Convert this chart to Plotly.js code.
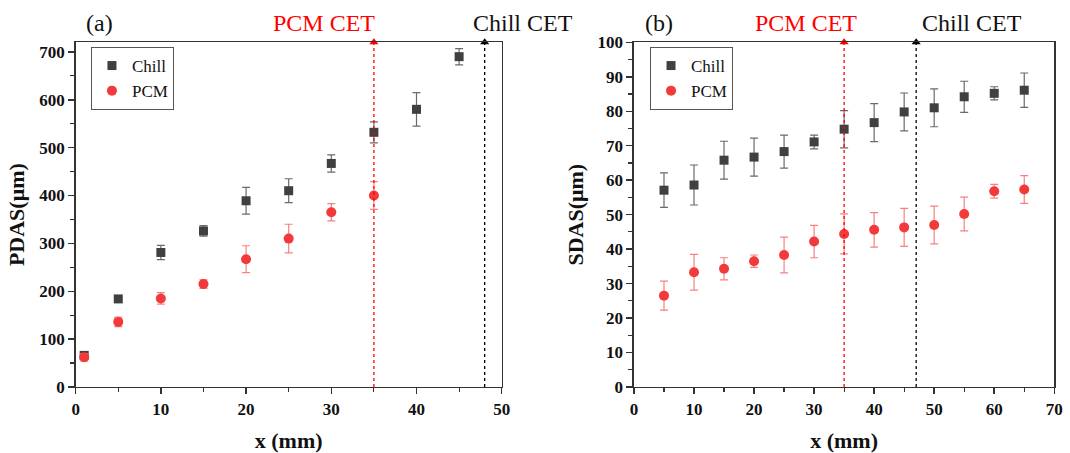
<!DOCTYPE html>
<html>
<head>
<meta charset="utf-8">
<script src="https://cdn.plot.ly/plotly-3.0.1.min.js"></script>
<style>html,body{margin:0;padding:0;background:#fff;}#chart{width:1070px;height:453px;}</style>
</head>
<body>
<div id="chart"></div>
<script>
// Panel (a): PDAS
const xPdasChill = [1, 5, 10, 15, 20, 25, 30, 35, 40, 45];
const pdasChill = [66, 184, 281, 326, 389, 410, 467, 532, 580, 690];
const pdasChillErr = [6, 6, 15, 11, 28, 25, 18, 22, 35, 17];
const xPdasPcm = [1, 5, 10, 15, 20, 25, 30, 35];
const pdasPcm = [62, 136, 185, 215, 267, 310, 365, 400];
const pdasPcmErr = [8, 10, 12, 9, 28, 30, 18, 29];

// Panel (b): SDAS
const xSdas = [5, 10, 15, 20, 25, 30, 35, 40, 45, 50, 55, 60, 65];
const sdasChill = [57.1, 58.6, 65.8, 66.7, 68.3, 71.1, 74.8, 76.7, 79.8, 81.0, 84.2, 85.2, 86.1];
const sdasChillErr = [5.0, 5.8, 5.5, 5.5, 4.8, 2.0, 5.4, 5.5, 5.5, 5.5, 4.5, 1.9, 5.0];
const sdasPcm = [26.5, 33.3, 34.3, 36.5, 38.3, 42.2, 44.4, 45.6, 46.3, 47.0, 50.2, 56.8, 57.3];
const sdasPcmErr = [4.2, 5.2, 3.2, 1.8, 5.2, 4.7, 5.8, 5.0, 5.5, 5.5, 4.9, 2.0, 4.0];

// CET positions (mm)
const cetA = {pcm: 35, chill: 48};
const cetB = {pcm: 35, chill: 47};
const yMaxA = 720, yMaxB = 100;

const chillColor = '#404040';
const pcmColor = '#f23a3a';
const serif = 'Liberation Serif';

function pts(x, y, err, name, symbol, size, color, errColor, xa, ya, legend) {
  return {
    type: 'scatter', mode: 'markers', x: x, y: y, name: name,
    xaxis: xa, yaxis: ya, legend: legend, showlegend: true,
    marker: {symbol: symbol, size: size, color: color},
    error_y: {type: 'data', array: err, visible: true, color: errColor, thickness: 1.2, width: 4},
    cliponaxis: false
  };
}
function head(x, y, color, xa, ya) {
  return {type: 'scatter', mode: 'markers', x: [x], y: [y], xaxis: xa, yaxis: ya,
    showlegend: false, hoverinfo: 'skip', cliponaxis: false,
    marker: {symbol: 'triangle-up', size: 8, color: color}};
}

const traces = [
  pts(xPdasChill, pdasChill, pdasChillErr, 'Chill', 'square', 9, chillColor, '#6a6a6a', 'x', 'y', 'legend'),
  pts(xPdasPcm, pdasPcm, pdasPcmErr, 'PCM', 'circle', 10, pcmColor, '#f88080', 'x', 'y', 'legend'),
  pts(xSdas, sdasChill, sdasChillErr, 'Chill', 'square', 9, chillColor, '#6a6a6a', 'x2', 'y2', 'legend2'),
  pts(xSdas, sdasPcm, sdasPcmErr, 'PCM', 'circle', 10, pcmColor, '#f88080', 'x2', 'y2', 'legend2'),
  head(cetA.pcm, yMaxA, '#ff0000', 'x', 'y'),
  head(cetA.chill, yMaxA, '#000000', 'x', 'y'),
  head(cetB.pcm, yMaxB, '#ff0000', 'x2', 'y2'),
  head(cetB.chill, yMaxB, '#000000', 'x2', 'y2')
];

function tickFont() { return {family: serif, size: 17, weight: 'bold', color: '#111'}; }
function titleFont() { return {family: serif, size: 22, weight: 'bold', color: '#111'}; }
function common() {
  return {showline: true, mirror: true, linecolor: '#333', linewidth: 1.5,
    ticks: 'outside', ticklen: 6, tickwidth: 1.5, tickcolor: '#333',
    showgrid: false, zeroline: false, tickfont: tickFont()};
}
function xax(domain, range, anchor) {
  return Object.assign(common(), {domain: domain, range: range, anchor: anchor, dtick: 10, tick0: 0,
    minor: {dtick: 5, ticks: 'outside', ticklen: 4, tickcolor: '#333', tickwidth: 1.2},
    title: {text: 'x (mm)', font: titleFont(), standoff: 19}});
}
function yax(range, dtick, minor, anchor, title) {
  return Object.assign(common(), {domain: [0.1457, 0.9066], range: range, anchor: anchor, dtick: dtick, tick0: 0,
    minor: {dtick: minor, ticks: 'outside', ticklen: 4, tickcolor: '#333', tickwidth: 1.2},
    title: {text: title, font: titleFont(), standoff: 8}});
}

function vline(xref, yref, x, yTop, color) {
  return {type: 'line', xref: xref, yref: yref, x0: x, x1: x, y0: 0, y1: yTop,
    line: {color: color, width: 1.3, dash: 'dot'}};
}

const annY = 1 - 23 / 453;
function ann(text, xref, x, color) {
  return {text: text, xref: xref, yref: 'paper', x: x, y: annY, xanchor: 'center', yanchor: 'middle',
    showarrow: false, font: {family: serif, size: 24, weight: 'normal', color: color}};
}
const legendStyle = (x) => ({x: x, y: 1 - 47 / 453, xanchor: 'left', yanchor: 'top', bgcolor: '#fff',
  bordercolor: '#555', borderwidth: 1, font: {family: serif, size: 17, color: '#111'},
  tracegroupgap: 0, itemwidth: 30});

const layout = {
  width: 1070, height: 453,
  margin: {l: 0, r: 0, t: 0, b: 0},
  paper_bgcolor: '#fff', plot_bgcolor: '#fff',
  xaxis: xax([0.0707, 0.4689], [0, 50], 'y'),
  yaxis: yax([0, yMaxA], 100, 50, 'x', 'PDAS(μm)'),
  xaxis2: xax([0.5925, 0.9853], [0, 70], 'y2'),
  yaxis2: yax([0, yMaxB], 10, 5, 'x2', 'SDAS(μm)'),
  legend: legendStyle(0.085),
  legend2: legendStyle(0.6075),
  shapes: [
    vline('x', 'y', cetA.pcm, yMaxA, '#ff0000'),
    vline('x', 'y', cetA.chill, yMaxA, '#000000'),
    vline('x2', 'y2', cetB.pcm, yMaxB, '#ff0000'),
    vline('x2', 'y2', cetB.chill, yMaxB, '#000000')
  ],
  annotations: [
    ann('(a)', 'paper', 99 / 1070, '#111'),
    ann('PCM CET', 'x', cetA.pcm - 5.9, '#ff0000'),
    ann('Chill CET', 'paper', 523 / 1070, '#111'),
    ann('(b)', 'paper', 659 / 1070, '#111'),
    ann('PCM CET', 'x2', cetB.pcm - 6.4, '#ff0000'),
    ann('Chill CET', 'x2', cetB.chill + 9.3, '#111')
  ]
};

Plotly.newPlot('chart', traces, layout, {staticPlot: true, displayModeBar: false});
</script>
</body>
</html>
